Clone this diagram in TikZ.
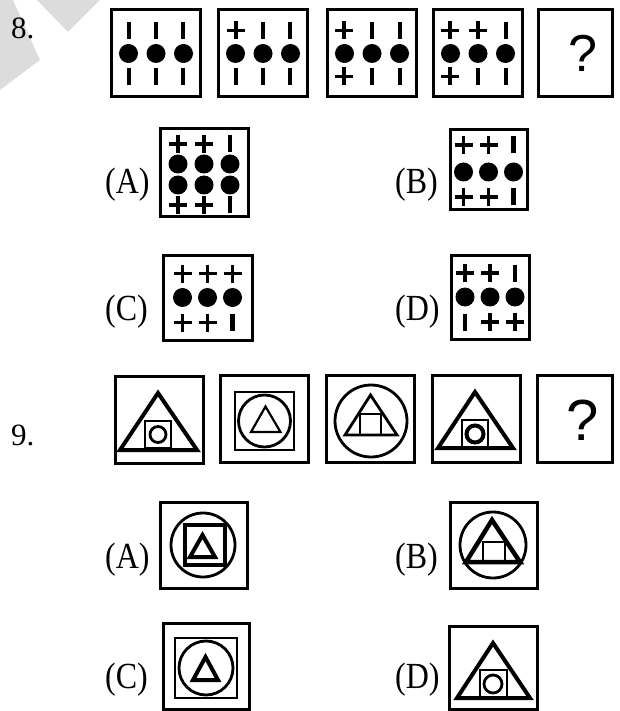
\documentclass[tikz,border=0pt]{standalone}
\usepackage{graphicx}
\usepackage{fontspec}
\setmainfont{Liberation Serif}
\newfontfamily\askfont{Liberation Sans}
\usetikzlibrary{positioning,calc}
\definecolor{qzMark}{HTML}{DCDCDC}
\tikzset{
  figbox/.style={draw, line width=3pt, minimum width=89pt, minimum height=87pt, inner sep=0pt},
  qnum/.style={font=\fontsize{31}{31}\selectfont, inner sep=0pt, anchor=base west},
  optlabel/.style={font=\fontsize{32}{32}\selectfont, inner sep=0pt, anchor=base west},
  askmark/.style={font=\askfont\fontsize{52}{52}\selectfont, inner sep=0pt},
  thickline/.style={line width=4pt, line join=miter},
  midline/.style={line width=2.8pt},
  thinline/.style={line width=2.2pt},
  plussign/.pic={\draw[line width=3.8pt] (-9,0) -- (9,0) (0,-9) -- (0,9);},
  barsign/.pic={\draw[line width=4.2pt] (0,-8.5) -- (0,8.5);},
  dotsign/.pic={\fill (0,0) circle (9.5);}
}
% one row of three symbols inside a box: box, spacing, offset, symbols
\newcommand{\symrow}[6]{%
  \pic at ($(#1)+(-#2,#3)$) {#4};
  \pic at ($(#1)+(0,#3)$) {#5};
  \pic at ($(#1)+(#2,#3)$) {#6};}
\newcommand{\tall}[1]{\scalebox{1}[1.15]{#1}}

\begin{document}
\begin{tikzpicture}[x=1pt, y=-1pt]
  \useasboundingbox (0,0) rectangle (619,711);
  % grey corner mark
  \fill[qzMark] (0,0) -- (13,0) -- (40,60) -- (0,90) -- cycle;
  \fill[qzMark] (37,0) -- (68,32) -- (100,0) -- cycle;

  % question 8
  \node[qnum] (q8) at (11,39) {8.};
  \node[figbox] (p1) at (156,53.5) {};
  \node[figbox] (p2) at (263,53.5) {};
  \node[figbox] (p3) at (372,53.5) {};
  \node[figbox] (p4) at (478,53.5) {};
  \node[figbox, minimum width=74pt] (p5) at (575,53) {};
  \symrow{p1}{27}{-23}{barsign}{barsign}{barsign}
  \symrow{p2}{27}{-23}{plussign}{barsign}{barsign}
  \symrow{p3}{28}{-23}{plussign}{barsign}{barsign}
  \symrow{p4}{28}{-23}{plussign}{plussign}{barsign}
  \foreach \b in {p1,p2,p3,p4}{\symrow{\b}{27.5}{0}{dotsign}{dotsign}{dotsign}}
  \symrow{p1}{27}{23}{barsign}{barsign}{barsign}
  \symrow{p2}{27}{23}{barsign}{barsign}{barsign}
  \symrow{p3}{28}{23}{plussign}{barsign}{barsign}
  \symrow{p4}{28}{23}{plussign}{barsign}{barsign}
  \node[askmark] (ask8) at (583,53) {?};

  \node[optlabel] (la8) at (105,194) {\tall{(A)}};
  \node[figbox, minimum width=88pt, minimum height=88pt] (a8) at (204,173) {};
  \symrow{a8}{26}{-29}{plussign}{plussign}{barsign}
  \symrow{a8}{26}{-9}{dotsign}{dotsign}{dotsign}
  \symrow{a8}{26}{12}{dotsign}{dotsign}{dotsign}
  \symrow{a8}{26}{32}{plussign}{plussign}{barsign}

  \node[optlabel] (lb8) at (395,194) {\tall{(B)}};
  \node[figbox, minimum width=77pt, minimum height=80pt] (b8) at (488.5,170) {};
  \symrow{b8}{25}{-25}{plussign}{plussign}{barsign}
  \symrow{b8}{25}{2}{dotsign}{dotsign}{dotsign}
  \symrow{b8}{25}{27}{plussign}{plussign}{barsign}

  \node[optlabel] (lc8) at (105,320) {\tall{(C)}};
  \node[figbox, minimum width=89pt, minimum height=85pt] (c8) at (207.5,297.5) {};
  \symrow{c8}{25}{-24}{plussign}{plussign}{plussign}
  \symrow{c8}{25}{0}{dotsign}{dotsign}{dotsign}
  \symrow{c8}{25}{25}{plussign}{plussign}{barsign}

  \node[optlabel] (ld8) at (395,320) {\tall{(D)}};
  \node[figbox, minimum width=78pt, minimum height=84pt] (d8) at (490,297) {};
  \symrow{d8}{25}{-24}{plussign}{plussign}{barsign}
  \symrow{d8}{25}{0}{dotsign}{dotsign}{dotsign}
  \symrow{d8}{25}{25}{barsign}{plussign}{plussign}

  % question 9
  \node[qnum] (q9) at (11,445) {9.};
  \node[figbox, minimum width=88pt] (r1) at (159,420) {};
  \node[figbox, minimum width=88pt] (r2) at (264,419) {};
  \node[figbox, minimum width=88pt] (r3) at (370,419) {};
  \node[figbox, minimum width=88pt] (r4) at (476,419) {};
  \node[figbox, minimum width=75pt] (r5) at (575,419) {};
  \draw[thickline] (158,393) -- (197,450) -- (120,450) -- cycle;
  \draw[midline] (145,421) rectangle (171,448);
  \draw[midline] (158,434.5) circle (8);
  \draw[midline] (235,392) rectangle (294,450);
  \draw[midline] (264.5,421) circle (26);
  \draw[thinline] (265.5,406.5) -- (280.5,432) -- (251,432) -- cycle;
  \draw[midline] (371,421) circle (36);
  \draw[midline] (370.5,395) -- (397,435) -- (345,435) -- cycle;
  \draw[midline] (360,414) rectangle (381,435);
  \draw[thickline] (475,392) -- (513,448) -- (438,448) -- cycle;
  \draw[midline] (462,420) rectangle (488,448);
  \draw[thickline] (475,434) circle (8.5);
  \node[askmark, font=\askfont\fontsize{58}{58}\selectfont] (ask9) at (583,420) {?};

  \node[optlabel] (la9) at (105,568) {\tall{(A)}};
  \node[figbox, minimum width=87pt, minimum height=86pt] (a9) at (203.5,545) {};
  \draw[midline] (203,545) circle (32);
  \draw[thickline] (185,525) rectangle (225,565);
  \draw[thickline] (202.5,535) -- (215,557) -- (190,557) -- cycle;

  \node[optlabel] (lb9) at (395,568) {\tall{(B)}};
  \node[figbox, minimum width=87pt, minimum height=86pt] (b9) at (493.5,545) {};
  \draw[midline] (493,545) circle (33);
  \draw[line width=4.5pt] (492,520) -- (520,562) -- (466,562) -- cycle;
  \draw[thinline] (483,562) -- (483,542) -- (505,542) -- (505,562);

  \node[optlabel] (lc9) at (105,688) {\tall{(C)}};
  \node[figbox, minimum width=86pt, minimum height=86pt] (c9) at (206,666) {};
  \draw[midline] (175,638) rectangle (237,698);
  \draw[midline] (206,668) circle (27);
  \draw[thickline] (205.5,657) -- (218,680) -- (193,680) -- cycle;

  \node[optlabel] (ld9) at (395,688) {\tall{(D)}};
  \node[figbox, minimum width=88pt, minimum height=83pt] (d9) at (493,668) {};
  \draw[thickline] (493,643) -- (530,698) -- (457,698) -- cycle;
  \draw[midline] (480,670) rectangle (507,698);
  \draw[midline] (493,684) circle (9);
\end{tikzpicture}
\end{document}
